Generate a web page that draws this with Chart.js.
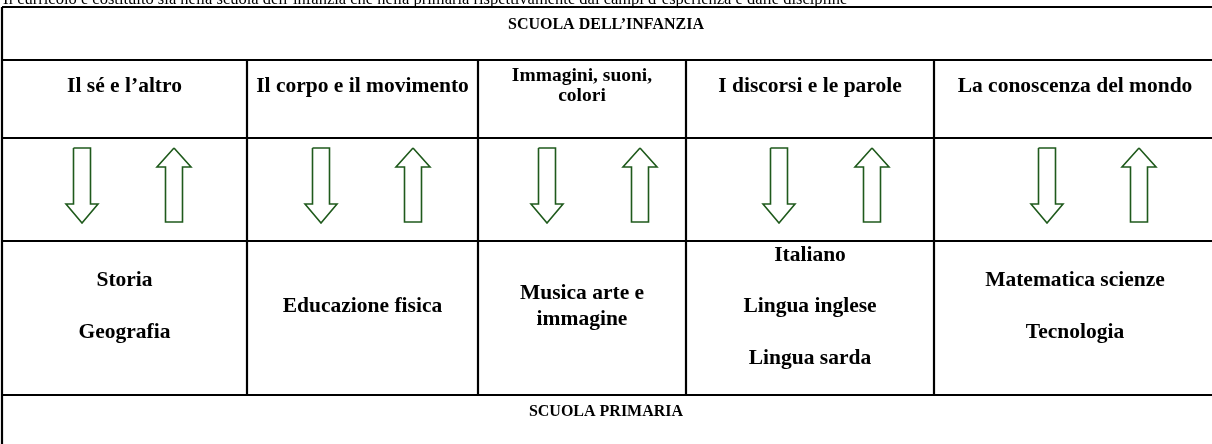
<!DOCTYPE html>
<html>
<head>
<meta charset="utf-8">
<script src="https://cdn.jsdelivr.net/npm/chart.js@4/dist/chart.umd.min.js"></script>
<style>
  html, body { margin: 0; padding: 0; background: #fff; }
  #wrap { width: 1212px; height: 444px; }
</style>
</head>
<body>
<div id="wrap"><canvas id="tableChart" width="1212" height="444"></canvas></div>
<script>
// testo e struttura della tabella
const pageNote = 'Il curricolo è costituito sia nella scuola dell’infanzia che nella primaria rispettivamente dai campi d’esperienza e dalle discipline';
const headerTop = 'SCUOLA DELL’INFANZIA';
const headerBottom = 'SCUOLA PRIMARIA';

const campi = [
    ['Il sé e l’altro'],
    ['Il corpo e il movimento'],
    ['Immagini, suoni,', 'colori'],
    ['I discorsi e le parole'],
    ['La conoscenza del mondo']
];

const discipline = [
    ['Storia', '', 'Geografia'],
    ['Educazione fisica'],
    ['Musica arte e', 'immagine'],
    ['Italiano', '', 'Lingua inglese', '', 'Lingua sarda'],
    ['Matematica scienze', '', 'Tecnologia']
];

// bordi della tabella (valori sulla scala x / y)
const colEdges = [2, 247, 478, 686, 934, 1216];
const rowEdges = [7, 60, 138, 241, 395];

// frecce: posizione x del centro, una coppia per colonna
const arrowDownX = [82, 321, 547, 779, 1047];
const arrowUpX = [174, 413, 640, 872, 1139];

const GREEN = '#1f5a1c';
const FONT = '"Liberation Serif", "Times New Roman", serif';

function segment(x1, y1, x2, y2, color, width) {
    return {
        data: [{ x: x1, y: y1 }, { x: x2, y: y2 }],
        showLine: true,
        borderColor: color,
        borderWidth: width,
        pointRadius: 0,
        fill: false,
        tension: 0
    };
}

function downArrow(cx) {
    const pts = [
        [-8.5, 148], [8.5, 148], [8.5, 204], [16, 204], [0, 223],
        [-16, 204], [-8.5, 204], [-8.5, 148]
    ];
    return {
        data: pts.map(p => ({ x: cx + p[0], y: p[1] })),
        showLine: true, borderColor: GREEN, borderWidth: 1.6,
        pointRadius: 0, fill: false, tension: 0, borderJoinStyle: 'miter'
    };
}

function upArrow(cx) {
    const pts = [
        [0, 148], [17, 167], [8.5, 167], [8.5, 222], [-8.5, 222],
        [-8.5, 167], [-17, 167], [0, 148]
    ];
    return {
        data: pts.map(p => ({ x: cx + p[0], y: p[1] })),
        showLine: true, borderColor: GREEN, borderWidth: 1.6,
        pointRadius: 0, fill: false, tension: 0, borderJoinStyle: 'miter'
    };
}

const datasets = [];
// righe orizzontali
rowEdges.forEach(y => datasets.push(segment(colEdges[0], y, colEdges[colEdges.length - 1], y, '#000', 2.2)));
// bordi verticali esterni
datasets.push(segment(colEdges[0], rowEdges[0], colEdges[0], 460, '#000', 2.2));
datasets.push(segment(colEdges[colEdges.length - 1], rowEdges[0], colEdges[colEdges.length - 1], 460, '#000', 2.2));
// separatori di colonna (solo righe campi / frecce / discipline)
for (let i = 1; i < colEdges.length - 1; i++) {
    datasets.push(segment(colEdges[i], rowEdges[1], colEdges[i], rowEdges[4], '#000', 2.2));
}
arrowDownX.forEach(x => datasets.push(downArrow(x)));
arrowUpX.forEach(x => datasets.push(upArrow(x)));

const textPlugin = {
    id: 'tableText',
    afterDatasetsDraw(chart) {
        const ctx = chart.ctx;
        const xs = chart.scales.x;
        const ys = chart.scales.y;
        ctx.save();
        ctx.fillStyle = '#000';

        // riga di testo tagliata in alto
        ctx.font = '16.5px ' + FONT;
        ctx.textAlign = 'left';
        ctx.textBaseline = 'alphabetic';
        ctx.fillText(pageNote, xs.getPixelForValue(3), ys.getPixelForValue(4));

        ctx.font = 'bold 16px ' + FONT;
        ctx.textAlign = 'center';
        ctx.textBaseline = 'middle';
        const mid = xs.getPixelForValue(606);
        ctx.fillText(headerTop, mid, ys.getPixelForValue(25));
        ctx.fillText(headerBottom, mid, ys.getPixelForValue(412));

        function block(lines, col, cy, lh, size) {
            ctx.font = 'bold ' + size + 'px ' + FONT;
            const cx = xs.getPixelForValue((colEdges[col] + colEdges[col + 1]) / 2);
            const start = cy - (lines.length - 1) * lh / 2;
            lines.forEach((t, i) => {
                if (t) ctx.fillText(t, cx, ys.getPixelForValue(start + i * lh));
            });
        }
        campi.forEach((lines, i) => {
            if (lines.length > 1) block(lines, i, 86, 20, 19.5);
            else block(lines, i, 86, 24, 21.5);
        });
        discipline.forEach((lines, i) => block(lines, i, 306.5, 25.75, 21.5));
        ctx.restore();
    }
};

new Chart(document.getElementById('tableChart'), {
    type: 'scatter',
    data: { datasets },
    options: {
        responsive: false,
        animation: false,
        devicePixelRatio: 1,
        layout: { padding: 0 },
        scales: {
            x: { type: 'linear', min: 0, max: 1212, display: false },
            y: { type: 'linear', min: 0, max: 444, reverse: true, display: false }
        },
        plugins: {
            legend: { display: false },
            tooltip: { enabled: false }
        },
        events: []
    },
    plugins: [textPlugin]
});
</script>
</body>
</html>
